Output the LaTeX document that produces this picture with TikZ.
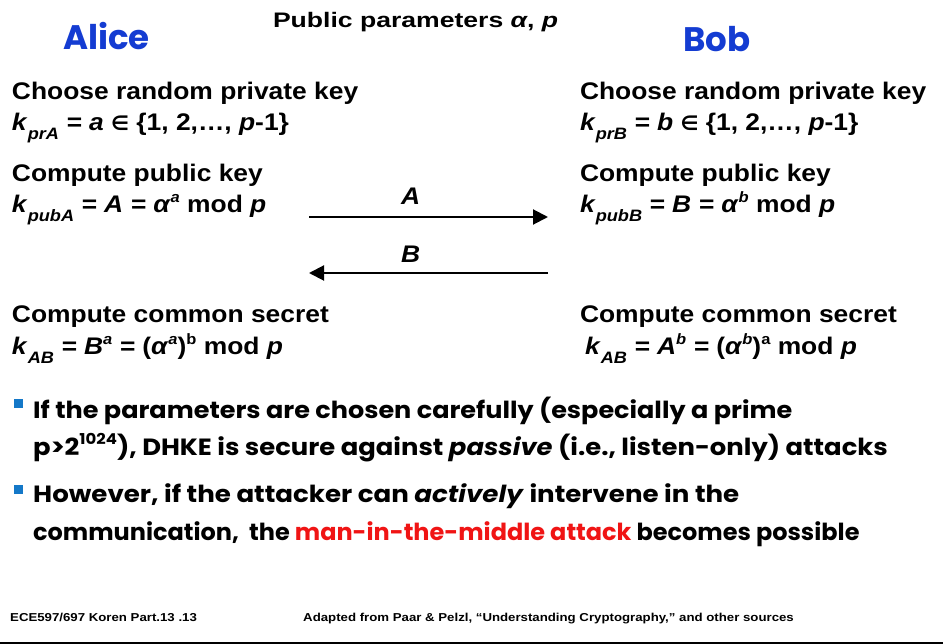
\documentclass[tikz,border=0pt]{standalone}
\usepackage{fontspec}
\setmainfont{Liberation Sans}[FakeStretch=1.1]
\newfontfamily\comicfont{Poppins}
\newfontfamily\symfont{DejaVu Sans}
\newfontfamily\footfont{Liberation Sans}[FakeStretch=1.15]
\usetikzlibrary{arrows.meta}
\definecolor{namecol}{RGB}{20,60,210}
\definecolor{bulletcol}{RGB}{20,120,200}
\definecolor{hilite}{RGB}{240,20,20}
\newcommand\vi[1]{\textit{#1}}
\newcommand\sbs[1]{\raisebox{-0.36em}{\fontsize{16.5}{16}\selectfont\itshape #1}}
\newcommand\sps[1]{\raisebox{0.42em}{\fontsize{15}{15}\selectfont #1}}
\newcommand\elem{{\symfont\fontsize{20}{20}\selectfont ∈}}
\newcommand\wide[2]{\scalebox{#1}[1]{#2}}
\tikzset{
  txt/.style={anchor=base west, inner sep=0pt, outer sep=0pt, font=\bfseries\fontsize{24}{28}\selectfont},
  party/.style={anchor=base west, inner sep=0pt, text=namecol, font=\comicfont\bfseries\fontsize{34}{40}\selectfont},
  bul/.style={anchor=base west, inner sep=0pt, font=\comicfont\bfseries\fontsize{23.5}{26}\selectfont},
  foot/.style={anchor=base west, inner sep=0pt, font=\footfont\bfseries\fontsize{11.5}{13}\selectfont},
  msg/.style={line width=2pt, -{Triangle[length=15pt,width=15pt]}},
  sq/.style={fill=bulletcol, minimum width=9pt, minimum height=9pt, inner sep=0pt},
}
\begin{document}
\begin{tikzpicture}[x=1pt,y=-1pt]
\useasboundingbox (0,0) rectangle (943,644);
\fill[white] (0,0) rectangle (943,644);

% names and shared parameters
\node[party] (alice) at (63,50) {Alice};
\node[party] (bob) at (683,52) {Bob};
\node[txt, font=\bfseries\fontsize{21}{24}\selectfont] (params) at (273,28) {\wide{1.15}{Public parameters \vi{α}, \vi{p}}};

% Alice's side
\node[txt] (lchoose) at (12,100) {Choose random private key};
\node[txt] (lkey) at (12,131) {\vi{k}\sbs{prA}\vi{ = a} \elem\ \{1, 2,…, \vi{p}-1\}};
\node[txt] (lcomp) at (12,182) {Compute public key};
\node[txt] (lpub) at (12,213) {\vi{k}\sbs{pubA}\vi{ = A = α}\sps{\vi{a}} mod \vi{p}};
\node[txt] (lsec) at (12,323) {Compute common secret};
\node[txt] (lkab) at (12,355) {\vi{k}\sbs{AB}\vi{ = B}\sps{\vi{a}}\vi{ = }(\vi{α}\sps{\vi{a}})\sps{b} mod \vi{p}};

% Bob's side
\node[txt] (rchoose) at (580,100) {Choose random private key};
\node[txt] (rkey) at (580,131) {\vi{k}\sbs{prB}\vi{ = b} \elem\ \{1, 2,…, \vi{p}-1\}};
\node[txt] (rcomp) at (580,182) {Compute public key};
\node[txt] (rpub) at (580,213) {\vi{k}\sbs{pubB}\vi{ = B = α}\sps{\vi{b}} mod \vi{p}};
\node[txt] (rsec) at (580,323) {Compute common secret};
\node[txt] (rkab) at (585,355) {\vi{k}\sbs{AB}\vi{ = A}\sps{\vi{b}}\vi{ = }(\vi{α}\sps{\vi{b}})\sps{a} mod \vi{p}};

% exchanged values
\coordinate (aL) at (309,217);
\coordinate (aR) at (548,217);
\coordinate (bL) at (309,273);
\coordinate (bR) at (548,273);
\draw[msg] (aL) -- (aR);
\draw[msg] (bR) -- (bL);
\node[txt] (labA) at (401,205) {\vi{A}};
\node[txt] (labB) at (401,263) {\vi{B}};

% remarks
\node[sq] (s1) at (18.5,404) {};
\node[bul] (b1) at (33,418) {\wide{1.085}{If the parameters are chosen carefully (especially a prime}};
\node[bul] (b1b) at (33,455) {\wide{1.10}{p>2\raisebox{0.45em}{\fontsize{15}{15}\selectfont 1024}), DHKE is secure against \textit{passive} (i.e., listen-only) attacks}};
\node[sq] (s2) at (18.5,489) {};
\node[bul] (b2) at (33,502) {\wide{1.11}{However, if the attacker can \textit{actively} intervene in the}};
\node[bul] (b2b) at (33,540) {\wide{1.02}{communication,\ \ the \textcolor{hilite}{man-in-the-middle attack} becomes possible}};

% footer
\node[foot] (f1) at (10,621) {ECE597/697 Koren Part.13 .13};
\node[foot] (f2) at (303,621) {Adapted from Paar \& Pelzl, “Understanding Cryptography,” and other sources};
\draw[line width=2pt] (0,642.5) -- (943,642.5);
\end{tikzpicture}
\end{document}
